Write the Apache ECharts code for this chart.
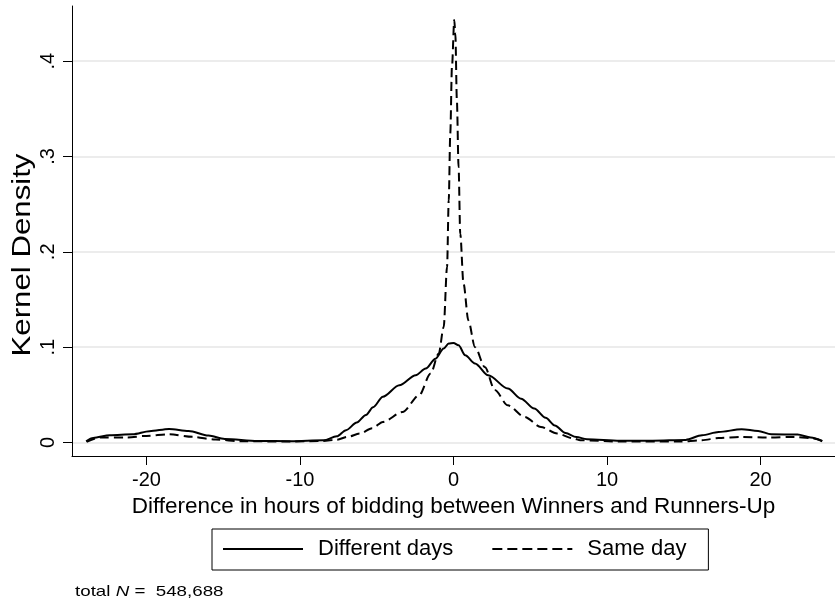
<!DOCTYPE html>
<html>
<head>
<meta charset="utf-8">
<script src="https://cdn.jsdelivr.net/npm/echarts@6/dist/echarts.min.js"></script>
<style>html,body{margin:0;padding:0;background:#fff}#c{width:835px;height:601px}</style>
</head>
<body>
<div id="c"></div>
<script>
// Different days (solid)
const diffX = [-23.93, -23.47, -22.39, -20.9, -19.8, -18.53, -17.25, -15.96, -14.9, -12.75, -10.6, -8.46, -7.6, -7.0, -6.3, -5.7, -5.24, -4.6, -3.53, -2.46, -1.81, -1.17, -0.64, -0.31, 0.0, 0.33, 0.76, 1.4, 2.26, 3.54, 4.4, 5.26, 6.0, 6.6, 7.3, 8.0, 8.69, 10.84, 12.98, 15.12, 16.19, 17.27, 18.77, 19.84, 20.7, 22.41, 23.27, 24.02];
const diffY = [0.0014, 0.0048, 0.0077, 0.0087, 0.0119, 0.0143, 0.0122, 0.0073, 0.0038, 0.0017, 0.0014, 0.0024, 0.0065, 0.013, 0.021, 0.029, 0.037, 0.048, 0.060, 0.0706, 0.0776, 0.088, 0.0986, 0.104, 0.1045, 0.102, 0.0916, 0.083, 0.0706, 0.0567, 0.046, 0.0357, 0.026, 0.018, 0.010, 0.0058, 0.0035, 0.002, 0.002, 0.0028, 0.0077, 0.011, 0.014, 0.0122, 0.0087, 0.0084, 0.0052, 0.0014];
// Same day (dashed)
const sameX = [-23.9, -23.04, -21.3, -20.0, -18.53, -17.0, -15.5, -13.8, -10.6, -8.5, -7.6, -6.9, -6.1, -5.3, -4.6, -3.32, -2.24, -1.49, -0.96, -0.64, -0.42, -0.31, -0.21, -0.10, 0.05, 0.12, 0.22, 0.33, 0.44, 0.65, 0.97, 1.4, 2.05, 2.69, 3.54, 4.62, 5.69, 6.76, 7.83, 8.26, 10.84, 14.69, 16.19, 17.27, 18.77, 20.48, 22.19, 23.27, 24.02];
const sameY = [0.0007, 0.0052, 0.0052, 0.007, 0.0087, 0.006, 0.0031, 0.0014, 0.001, 0.0017, 0.003, 0.006, 0.0094, 0.015, 0.0216, 0.032, 0.0496, 0.0724, 0.0934, 0.121, 0.184, 0.254, 0.324, 0.394, 0.443, 0.429, 0.359, 0.289, 0.219, 0.167, 0.128, 0.100, 0.079, 0.055, 0.039, 0.027, 0.0164, 0.0094, 0.0042, 0.0024, 0.001, 0.001, 0.0024, 0.0048, 0.0059, 0.0052, 0.0059, 0.0048, 0.0017];
const xTicks = [-20, -10, 0, 10, 20];
const yTicks = [0, 0.1, 0.2, 0.3, 0.4];
const seriesNames = ['Different days', 'Same day'];
const xTitle = 'Difference in hours of bidding between Winners and Runners-Up';
const yTitle = 'Kernel Density';

const FONT = 'Liberation Sans, Arial, Helvetica, sans-serif';
const zip = (xs, ys) => xs.map((x, i) => [x, ys[i]]);

const chart = echarts.init(document.getElementById('c'), null, {renderer: 'canvas'});
chart.setOption({
  backgroundColor: '#fff',
  animation: false,
  grid: {left: 72, right: -10, top: 6, bottom: 145, containLabel: false},
  xAxis: {
    type: 'value', min: -24.85, max: 24.85,
    name: xTitle, nameLocation: 'middle', nameGap: 37,
    nameTextStyle: {fontFamily: FONT, fontSize: 22.5, color: '#000'},
    axisLine: {show: true, onZero: false, lineStyle: {color: '#000', width: 1}},
    axisTick: {show: true, length: 9, customValues: xTicks, lineStyle: {color: '#000'}},
    axisLabel: {customValues: xTicks, margin: 14, fontFamily: FONT, fontSize: 20, color: '#000'},
    splitLine: {show: false}
  },
  yAxis: {
    type: 'value', min: -0.0141, max: 0.4578,
    axisLine: {show: true, onZero: false, lineStyle: {color: '#000', width: 1}},
    axisTick: {show: true, length: 9, customValues: yTicks, lineStyle: {color: '#000'}},
    axisLabel: {
      customValues: yTicks, rotate: 90, margin: 14,
      fontFamily: FONT, fontSize: 20, color: '#000',
      formatter: v => (Math.abs(v) < 1e-9 ? '0' : (Math.round(v * 10) / 10).toString().replace(/^0\./, '.'))
    },
    splitLine: {show: true, lineStyle: {color: '#e6e6e6', width: 1.5}}
  },
  legend: {
    left: 212, top: 529,
    data: [
      {name: seriesNames[0]},
      {name: seriesNames[1], lineStyle: {type: [10, 5]}}
    ],
    orient: 'horizontal',
    itemWidth: 80, itemHeight: 14, itemGap: 38,
    padding: [9, 22, 10, 10],
    borderColor: '#000', borderWidth: 1,
    itemStyle: {opacity: 0},
    textStyle: {fontFamily: FONT, fontSize: 22, color: '#000', padding: [0, 0, 0, 10]}
  },
  graphic: [
    {type: 'text', x: 23, y: 255, rotation: Math.PI / 2, scaleX: 1.2,
     style: {text: yTitle, fontFamily: FONT, fontSize: 26, fill: '#000', textAlign: 'center', textVerticalAlign: 'middle'}},
    {type: 'text', x: 75, y: 592, scaleX: 1.25,
     style: {
       text: '{a|total }{n|N}{a| =  548,688}',
       textVerticalAlign: 'middle',
       rich: {
         a: {fontFamily: FONT, fontSize: 15, fill: '#000'},
         n: {fontFamily: FONT, fontSize: 15, fontStyle: 'italic', fill: '#000'}
       }
     }}
  ],
  series: [
    {name: seriesNames[0], type: 'line', data: zip(diffX, diffY), showSymbol: false, symbol: 'none',
     smooth: 0.3, smoothMonotone: 'x',
     lineStyle: {color: '#000', width: 2, type: 'solid'}, itemStyle: {color: '#000'}, z: 3},
    {name: seriesNames[1], type: 'line', data: zip(sameX, sameY), showSymbol: false, symbol: 'none',
     smooth: 0.3, smoothMonotone: 'x',
     lineStyle: {color: '#000', width: 2, type: [9, 5]}, itemStyle: {color: '#000'}, z: 2}
  ]
});
</script>
</body>
</html>
